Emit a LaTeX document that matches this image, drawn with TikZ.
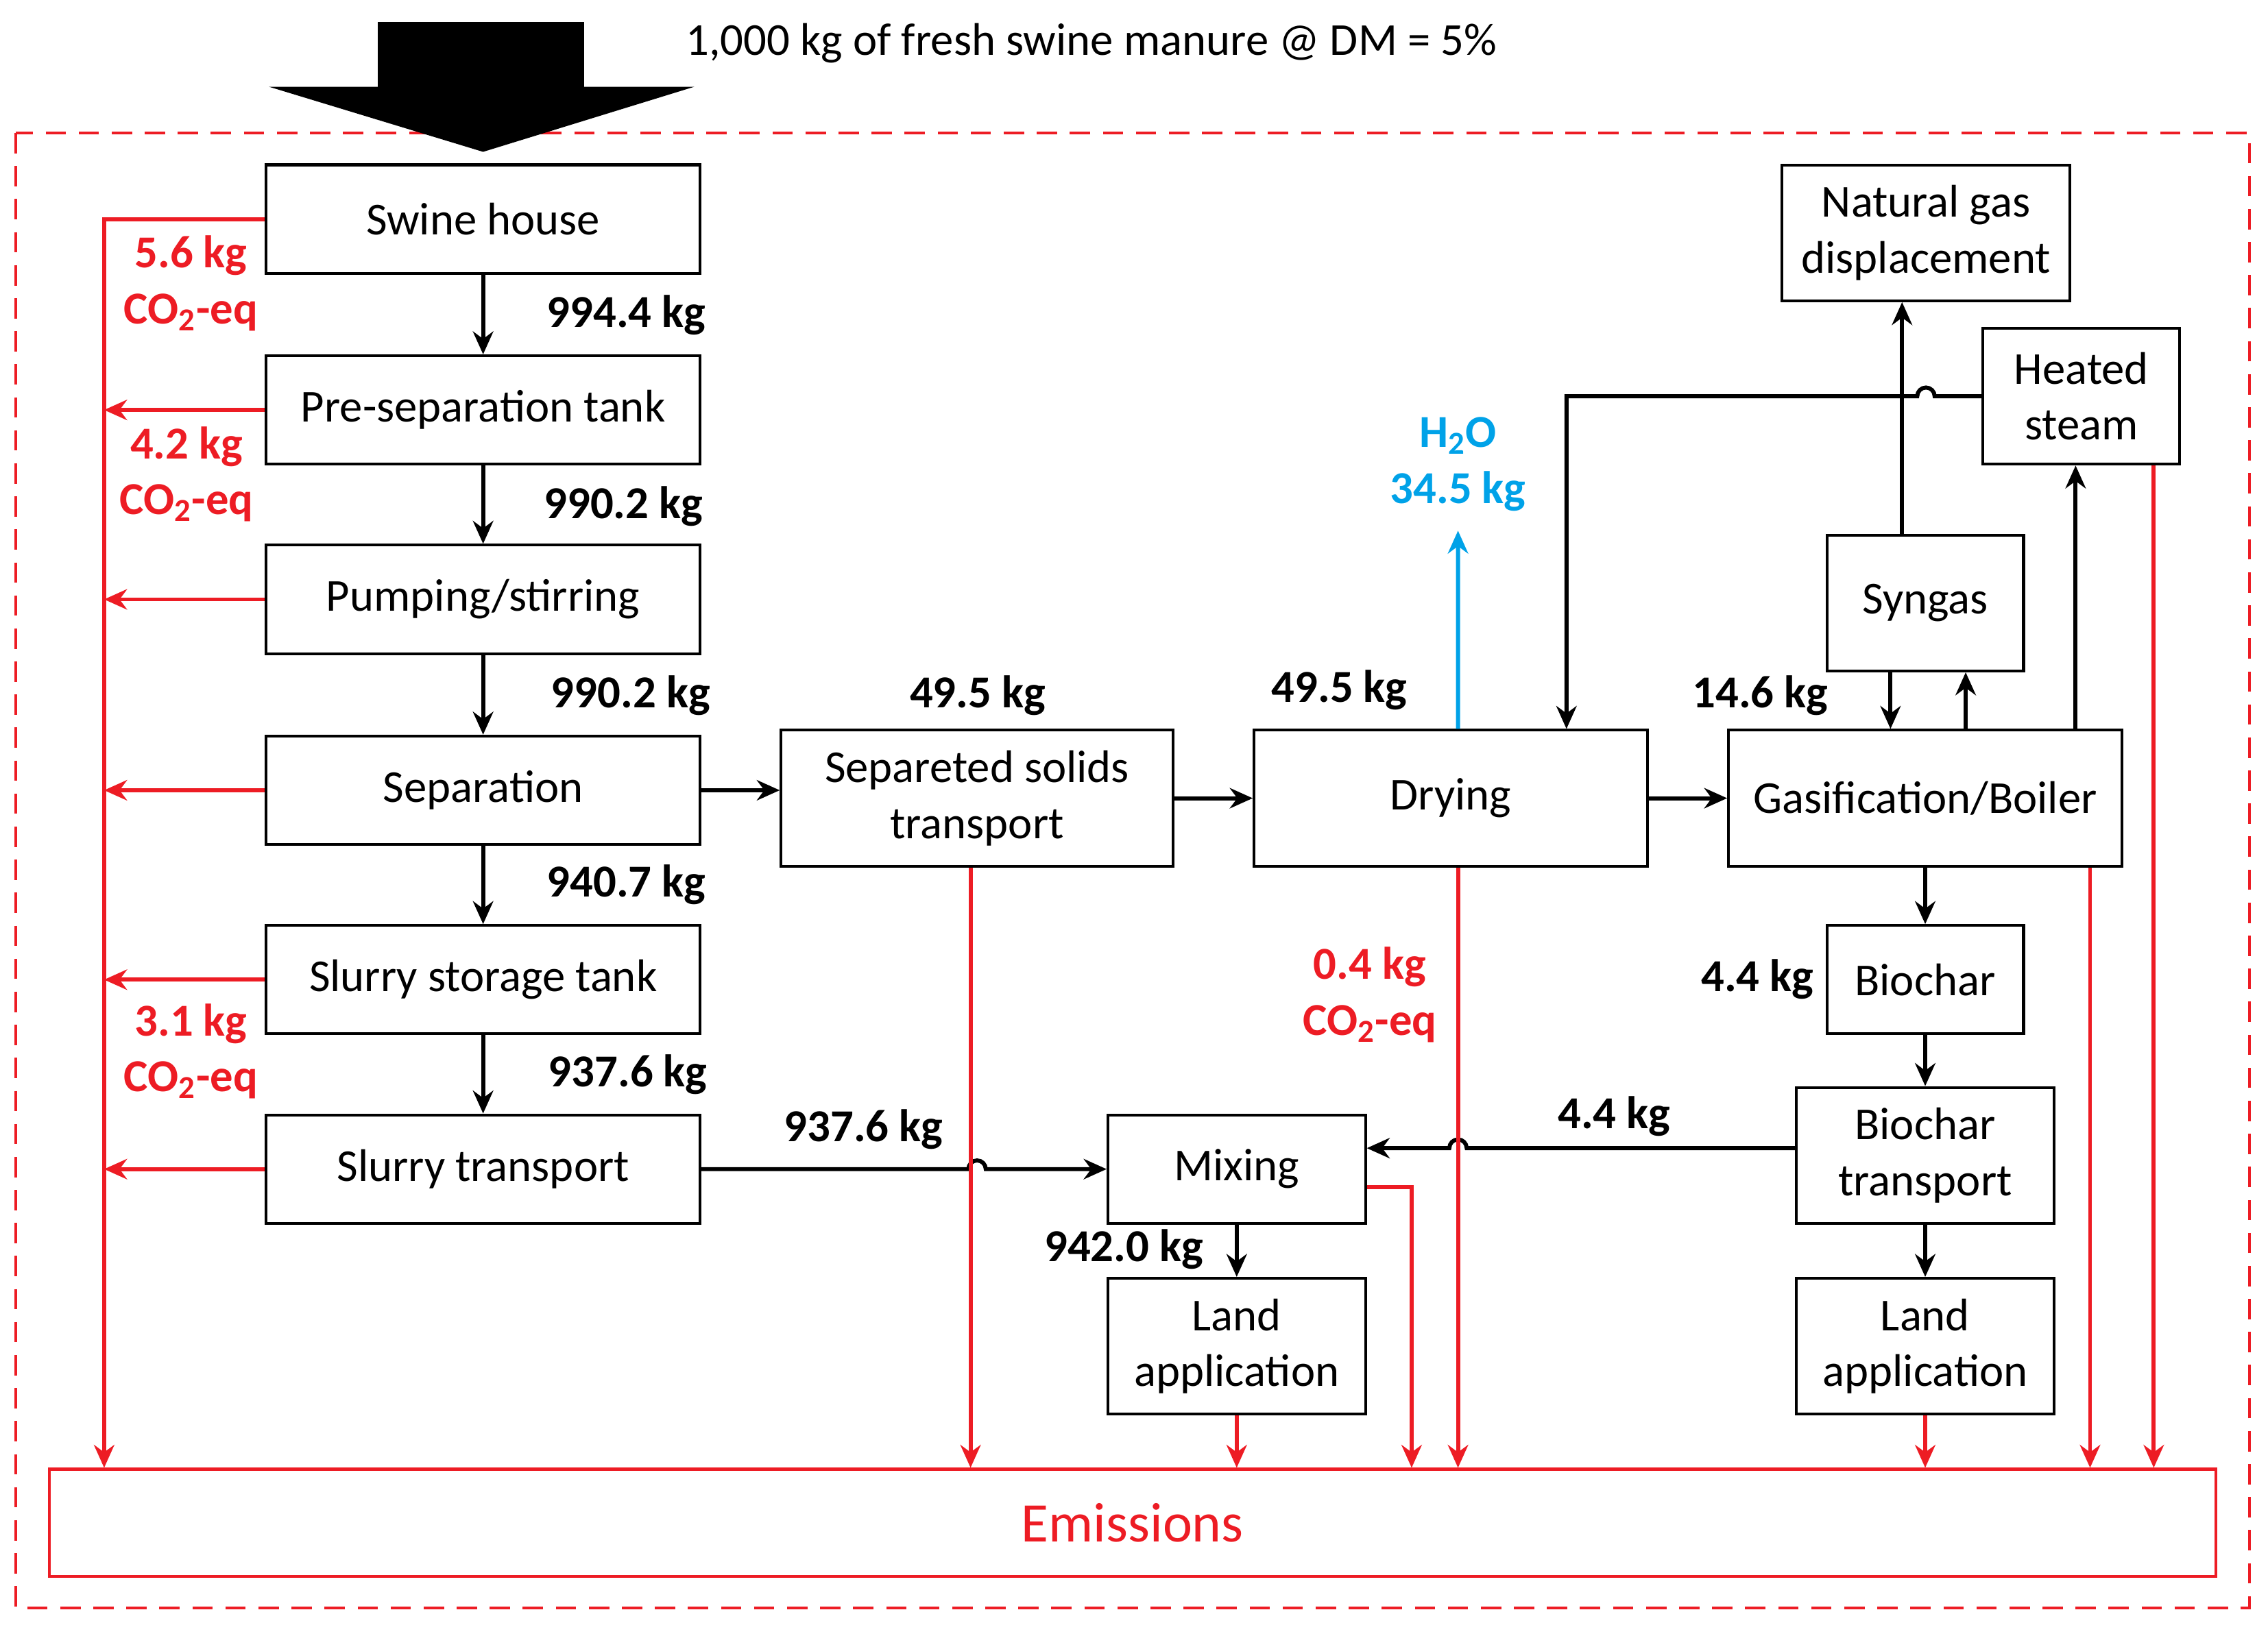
\documentclass[tikz,border=0pt]{standalone}
\usepackage{fontspec}
\setmainfont{Carlito}
\usetikzlibrary{arrows.meta, calc}

\definecolor{emisred}{RGB}{237,28,36}
\definecolor{waterblue}{RGB}{0,162,232}
\tikzset{
  box/.style={draw, line width=1.1pt, align=center, inner sep=0pt, font=\fontsize{18}{22}\selectfont},
  flow/.style={line width=1.6pt, -{Stealth[length=9pt,width=8pt]}},
  emis/.style={emisred, line width=1.6pt, -{Stealth[length=9pt,width=8pt]}},
  lbl/.style={font=\fontsize{18}{22}\selectfont\bfseries},
  rlbl/.style={lbl, text=emisred, align=center},
}

\begin{document}
\begin{tikzpicture}[x=0.02cm,y=-0.02cm]
  \useasboundingbox (0,0) rectangle (1568,1130);
  \draw[emisred, line width=1.1pt, dash pattern=on 8pt off 5pt] (11,92) rectangle (1555,1112);

  % manure input
  \fill (261,15) rectangle (404,62);
  \fill (186,60) -- (480,60) -- (334,105) -- cycle;
  \node[anchor=west, font=\fontsize{18}{22}\selectfont] (input) at (468,30) {1,000 kg of fresh swine manure @ DM = 5\%};

  % slurry line
  \node[box, minimum width=6cm, minimum height=1.5cm] (house) at (334,151.5) {Swine house};
  \node[box, minimum width=6cm, minimum height=1.5cm] (pre) at (334,283.5) {Pre-separation tank};
  \node[box, minimum width=6cm, minimum height=1.5cm] (pump) at (334,414.5) {Pumping/stirring};
  \node[box, minimum width=6cm, minimum height=1.5cm] (sep) at (334,546.5) {Separation};
  \node[box, minimum width=6cm, minimum height=1.5cm] (store) at (334,677.5) {Slurry storage tank};
  \node[box, minimum width=6cm, minimum height=1.5cm] (strans) at (334,808.5) {Slurry transport};

  % solids line
  \node[box, minimum width=5.42cm, minimum height=1.88cm] (solids) at (675.5,552) {Separeted solids\\transport};
  \node[box, minimum width=5.44cm, minimum height=1.88cm] (dry) at (1003,552) {Drying};
  \node[box, minimum width=5.44cm, minimum height=1.88cm] (gas) at (1331,552) {Gasification/Boiler};
  \node[box, minimum width=2.72cm, minimum height=1.88cm] (syn) at (1331,417) {Syngas};
  \node[box, minimum width=3.98cm, minimum height=1.88cm] (ngas) at (1331.5,161) {Natural gas\\displacement};
  \node[box, minimum width=2.72cm, minimum height=1.88cm] (steam) at (1439,274) {Heated\\steam};
  \node[box, minimum width=2.72cm, minimum height=1.5cm] (bchar) at (1331,677.5) {Biochar};
  \node[box, minimum width=3.56cm, minimum height=1.88cm] (btrans) at (1331,799) {Biochar\\transport};
  \node[box, minimum width=3.56cm, minimum height=1.88cm] (landr) at (1331,931) {Land\\application};
  \node[box, minimum width=3.56cm, minimum height=1.5cm] (mix) at (855,808.5) {Mixing};
  \node[box, minimum width=3.56cm, minimum height=1.88cm] (landl) at (855,931) {Land\\application};
  \node[box, draw=emisred, text=emisred, minimum width=29.96cm, minimum height=1.48cm,
        font=\fontsize{22}{26}\selectfont] (emisbox) at (783,1053) {Emissions};

  % slurry flows
  \draw[flow] (house) -- (pre);
  \draw[flow] (pre) -- (pump);
  \draw[flow] (pump) -- (sep);
  \draw[flow] (sep) -- (store);
  \draw[flow] (store) -- (strans);
  \node[lbl] (l9944) at (433,218) {994.4 kg};
  \node[lbl] (l9902a) at (431,350) {990.2 kg};
  \node[lbl] (l9902b) at (436,481) {990.2 kg};
  \node[lbl] (l9407) at (433,612) {940.7 kg};
  \node[lbl] (l9376a) at (434,743) {937.6 kg};
  \draw[flow] (sep.east) -- (sep.east -| solids.west);
  \draw[flow] (solids.east) -- (dry.west);
  \draw[flow] (dry.east) -- (gas.west);
  \draw[flow] (strans.east) -- ([xshift=-0.12cm]strans.east -| solids.south)
    arc (180:0:0.12cm) -- (strans.east -| mix.west);
  \node[lbl] (l9376) at (597,781) {937.6 kg};
  \node[lbl] (l495a) at (676,481) {49.5 kg};
  \node[lbl] (l495b) at (926,477) {49.5 kg};
  \node[lbl] (l146) at (1217,481) {14.6 kg};

  % gasification loop
  \draw[flow] ([xshift=-0.48cm]syn.south) -- ([xshift=-0.48cm]syn.south |- gas.north);
  \draw[flow] ([xshift=0.56cm]gas.north) -- ([xshift=0.56cm]gas.north |- syn.south);
  \draw[flow] ([xshift=-0.32cm]syn.north) -- ([xshift=-0.32cm]syn.north |- ngas.south);
  \draw[flow] ([xshift=2.08cm]gas.north) -- ([xshift=2.08cm]gas.north |- steam.south);
  \coordinate (sbend) at ([xshift=1.6cm]dry.north |- steam.west);
  \draw[flow] (steam.west) -- ([xshift=0.12cm]steam.west -| ngas.south)
    arc (0:180:0.12cm) -- (sbend) -- ([xshift=1.6cm]dry.north);

  % biochar path
  \draw[flow] (gas) -- (bchar);
  \draw[flow] (bchar) -- (btrans);
  \draw[flow] (btrans) -- (landr);
  \draw[flow] ([yshift=0.1cm]btrans.west) -- ([xshift=0.22cm, yshift=0.1cm]btrans.west -| dry.south)
    arc (0:180:0.12cm) -- ([yshift=0.1cm]btrans.west -| mix.east);
  \node[lbl] (l44a) at (1215,677) {4.4 kg};
  \node[lbl] (l44b) at (1116,772) {4.4 kg};
  \draw[flow] (mix) -- (landl);
  \node[lbl] (l942) at (777,864) {942.0 kg};

  % water
  \coordinate (h2o) at (1008,367);
  \draw[waterblue, line width=1.6pt, -{Stealth[length=9pt,width=8pt]}] ([xshift=0.1cm]dry.north) -- (h2o);
  \node[lbl, text=waterblue, align=center] (lh2o) at (1008,321) {H\textsubscript{2}O\\34.5 kg};

  % emissions
  \coordinate (rtop) at (72,151.5);
  \draw[emis] (house.west) -- (rtop) -- (rtop |- emisbox.north);
  \foreach \n in {pre, pump, sep, store, strans}
    \draw[emis] (\n.west) -- (\n.west -| rtop);
  \node[rlbl] (e56) at (132,196) {5.6 kg\\CO\textsubscript{2}-eq};
  \node[rlbl] (e42) at (129,328) {4.2 kg\\CO\textsubscript{2}-eq};
  \node[rlbl] (e31) at (132,727) {3.1 kg\\CO\textsubscript{2}-eq};
  \node[rlbl] (e04) at (947,688) {0.4 kg\\CO\textsubscript{2}-eq};
  \draw[emis] ([xshift=-0.09cm]solids.south) -- ([xshift=-0.09cm]solids.south |- emisbox.north);
  \draw[emis] ([xshift=0.1cm]dry.south) -- ([xshift=0.1cm]dry.south |- emisbox.north);
  \draw[emis] ([yshift=-0.25cm]mix.east) -- ++(0.62cm,0) -- ([xshift=0.62cm]mix.east |- emisbox.north);
  \draw[emis] (landl) -- (landl |- emisbox.north);
  \draw[emis] (landr) -- (landr |- emisbox.north);
  \draw[emis] ([xshift=2.28cm]gas.south) -- ([xshift=2.28cm]gas.south |- emisbox.north);
  \draw[emis] ([xshift=1cm]steam.south) -- ([xshift=1cm]steam.south |- emisbox.north);
\end{tikzpicture}
\end{document}
